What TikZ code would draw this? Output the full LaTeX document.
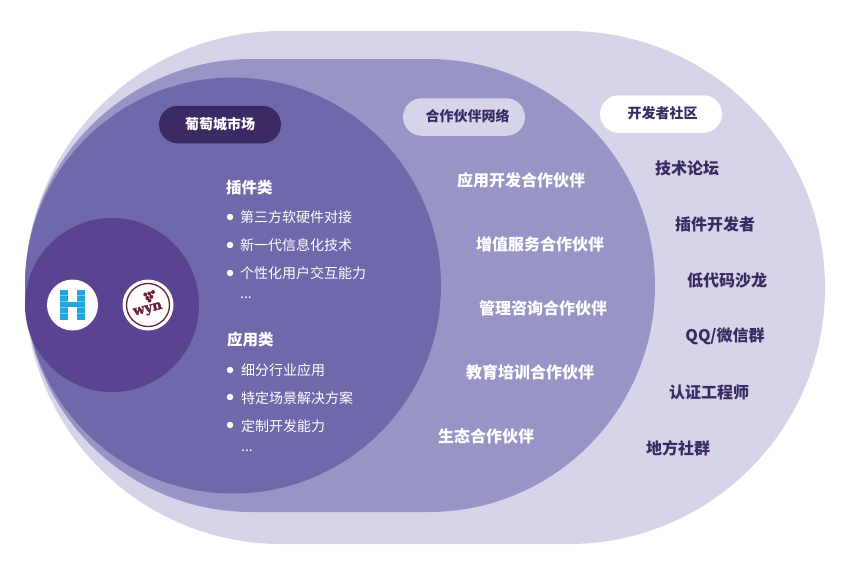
\documentclass[tikz,border=0pt]{standalone}
\usepackage{fontspec}
\setmainfont{Noto Sans CJK SC}
\newfontfamily\wynfont{DejaVu Serif}[BoldFeatures={FakeBold=2}]
\usetikzlibrary{positioning}
\usetikzlibrary{shapes.misc}
\definecolor{outerfill}{HTML}{D6D4E9}
\definecolor{middlefill}{HTML}{9795C6}
\definecolor{innerfill}{HTML}{6F68AA}
\definecolor{corefill}{HTML}{5A4492}
\definecolor{darkpurple}{HTML}{3B2A63}
\definecolor{hblue}{HTML}{1EA7E0}
\definecolor{wynred}{HTML}{6E1F3F}

\begin{document}
\begin{tikzpicture}[x=1pt, y=-1pt,
			area/.style={rounded rectangle, inner sep=0pt, outer sep=0pt},
			pill/.style={rounded rectangle, inner sep=0pt, minimum width=122pt, minimum height=37.5pt},
			pilltext/.style={inner sep=0pt, font=\fontsize{14}{14}\selectfont\bfseries},
			partner/.style={inner sep=0pt, text=white, font=\fontsize{16}{16}\selectfont\bfseries},
			community/.style={inner sep=0pt, text=darkpurple, font=\fontsize{16}{16}\selectfont\bfseries},
			heading/.style={inner sep=0pt, anchor=west, text=white, font=\fontsize{15.5}{16}\selectfont\bfseries},
			item/.style={inner sep=0pt, anchor=west, text=white, font=\fontsize{14}{14}\selectfont},
			bullet/.style={circle, fill=white, inner sep=0pt, minimum size=6.5pt},
			logo/.style={circle, fill=white, inner sep=0pt, minimum size=51pt}]
			\useasboundingbox (0, 0) rectangle (842, 571);
			
			\node[area, fill=outerfill, minimum width=800pt, minimum height=513pt](outer) at (425, 287.5) {};
			\node[area, fill=middlefill, minimum width=630pt, minimum height=453pt](middle) at (340, 285.5) {};
			\node[circle, fill=innerfill, inner sep=0pt, minimum size=416pt](inner) at (233, 285.5) {};
			\node[circle, fill=corefill, inner sep=0pt, minimum size=174pt](core) at (112, 305) {};
			
			\node[pill, fill=darkpurple](marketpill) at (220, 124.5) {};
			\node[pilltext, text=white](markettext) at (220, 124) {葡萄城市场};
			\node[pill, fill=outerfill](partnerpill) at (464, 117) {};
			\node[pilltext, text=darkpurple](partnertext) at (467.5, 116) {合作伙伴网络};
			\node[pill, fill=white](communitypill) at (661, 114) {};
			\node[pilltext, text=darkpurple](communitytext) at (662.5, 113) {开发者社区};
			
			% logos
			\node[logo](hlogo) at (72.5, 305) {};
			\fill[hblue!65] (59.5, 289.5) rectangle +(8.2, 30.5);
			\fill[hblue!65] (76.8, 289.5) rectangle +(8.2, 30.5);
			\foreach \row in {0,...,4} {
				\fill[hblue] (59.5, 289.5+6.15*\row) rectangle +(8.2, 5.5);
				\fill[hblue] (76.8, 289.5+6.15*\row) rectangle +(8.2, 5.5);
			}
			\fill[hblue] (67.7, 301.8) rectangle +(9.1, 5.5);
			
			\node[logo](wynlogo) at (148, 305) {};
			\node[circle, draw=wynred, line width=1.3pt, inner sep=0pt, minimum size=43pt](wynring) at (148, 305) {};
			\node[text=wynred, inner sep=0pt, rotate=14, font=\fontsize{13.5}{14}\wynfont\bfseries](wynname) at (148, 310) {wyn};
			\foreach \dotx/\doty in {145.3/294.5, 149.3/293.5, 153/292, 147.3/298, 151.3/296.8, 149.5/300.5} {
				\fill[wynred] (\dotx, \doty) circle (2);
			}
			
			% marketplace
			\node[heading](plugins) at (226, 187.5) {插件类};
			\node[bullet](bulleta) at (230, 217) {};
			\node[item](itema) at (240, 217.5) {第三方软硬件对接};
			\node[bullet](bulletb) at (230, 245) {};
			\node[item](itemb) at (240, 245.5) {新一代信息化技术};
			\node[bullet](bulletc) at (230, 273) {};
			\node[item](itemc) at (240, 273.5) {个性化用户交互能力};
			\node[item](moreplugins) at (240, 297.5) {...};
			
			\node[heading](apps) at (227, 340) {应用类};
			\node[bullet](bulletd) at (230, 370) {};
			\node[item](itemd) at (241, 370.5) {细分行业应用};
			\node[bullet](bullete) at (230, 397) {};
			\node[item](iteme) at (241, 398) {特定场景解决方案};
			\node[bullet](bulletf) at (230, 425) {};
			\node[item](itemf) at (241, 426) {定制开发能力};
			\node[item](moreapps) at (241, 450.5) {...};
			
			% partners
			\node[partner](partnera) at (521, 180) {应用开发合作伙伴};
			\node[partner](partnerb) at (540, 244) {增值服务合作伙伴};
			\node[partner](partnerc) at (543, 308) {管理咨询合作伙伴};
			\node[partner](partnerd) at (530, 372) {教育培训合作伙伴};
			\node[partner](partnere) at (486, 436) {生态合作伙伴};
			
			% community
			\node[community](communitya) at (687, 168) {技术论坛};
			\node[community](communityb) at (715, 224) {插件开发者};
			\node[community](communityc) at (727, 280) {低代码沙龙};
			\node[community](communityd) at (725, 336) {QQ/微信群};
			\node[community](communitye) at (709, 392) {认证工程师};
			\node[community](communityf) at (678, 448) {地方社群};
		\end{tikzpicture}
\end{document}
